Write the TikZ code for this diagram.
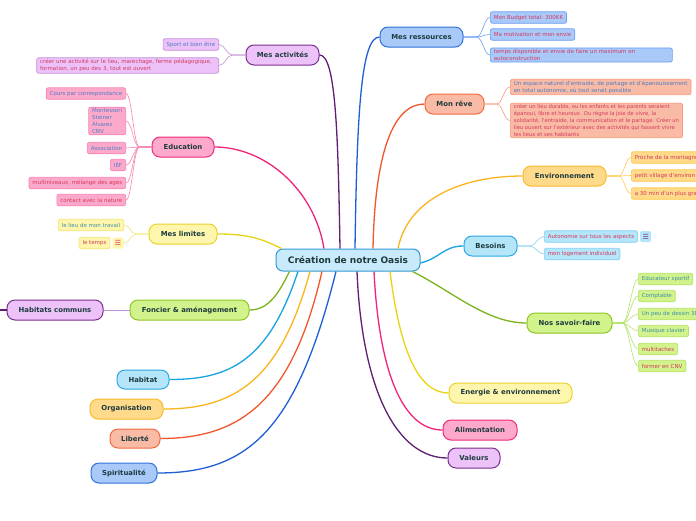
\documentclass[tikz,border=0pt]{standalone}
\usepackage{fontspec}
\setmainfont{DejaVu Sans}
\usetikzlibrary{positioning}

\definecolor{titletext}{HTML}{1D3B3E}
\definecolor{leafblue}{HTML}{4E7CC4}
\definecolor{leafred}{HTML}{D3395F}
\definecolor{leafteal}{HTML}{3D8FA3}
\definecolor{centerfill}{HTML}{C8EAFB}
\definecolor{centerline}{HTML}{3399D6}
\definecolor{purplefill}{HTML}{ECC2F8}
\definecolor{purpleline}{HTML}{7A2F8E}
\definecolor{purplebranch}{HTML}{5E1E72}
\definecolor{purpletwig}{HTML}{C890D8}
\definecolor{bluefill}{HTML}{A9C9F9}
\definecolor{blueline}{HTML}{2F72D9}
\definecolor{bluebranch}{HTML}{1F5FD6}
\definecolor{bluetwig}{HTML}{6E9FF2}
\definecolor{salmonfill}{HTML}{F9BBA5}
\definecolor{salmonline}{HTML}{F26A3E}
\definecolor{salmonbranch}{HTML}{F2572B}
\definecolor{salmontwig}{HTML}{F79A7C}
\definecolor{orangefill}{HTML}{FFDA8A}
\definecolor{orangeline}{HTML}{F9BB2A}
\definecolor{orangebranch}{HTML}{FBB51C}
\definecolor{orangetwig}{HTML}{FFC94A}
\definecolor{cyanfill}{HTML}{B5E5F9}
\definecolor{cyanline}{HTML}{2AA9E3}
\definecolor{cyanbranch}{HTML}{16A3E0}
\definecolor{cyantwig}{HTML}{80D2F2}
\definecolor{limefill}{HTML}{D2F38C}
\definecolor{limeline}{HTML}{90C526}
\definecolor{limebranch}{HTML}{7CB21F}
\definecolor{limetwig}{HTML}{B5E36A}
\definecolor{yellowfill}{HTML}{FFF6AE}
\definecolor{yellowline}{HTML}{EAD22A}
\definecolor{yellowbranch}{HTML}{E9D412}
\definecolor{yellowtwig}{HTML}{F2E67A}
\definecolor{pinkfill}{HTML}{FDA9CB}
\definecolor{pinkline}{HTML}{F02C7C}
\definecolor{pinkbranch}{HTML}{F0247A}
\definecolor{pinktwig}{HTML}{F784B4}

\tikzstyle{central} = [rectangle, rounded corners=7pt, minimum width=144pt, minimum height=22pt, line width=1pt, fill=centerfill, draw=centerline, text=titletext, font=\fontsize{9}{10}\selectfont\bfseries]
\tikzstyle{topic} = [rectangle, rounded corners=8pt, minimum height=20pt, inner sep=2pt, line width=1pt, text=titletext, font=\fontsize{6.9}{8}\selectfont\bfseries]
\tikzstyle{leaf} = [rectangle, rounded corners=2pt, minimum height=11.5pt, inner xsep=3.5pt, inner ysep=1.5pt, line width=0.7pt, align=left, font=\fontsize{5.5}{6.8}\selectfont]
\tikzstyle{icon} = [rectangle, rounded corners=1.5pt, minimum size=11pt, inner sep=0pt, font=\fontsize{7}{7}\selectfont]
\tikzstyle{branch} = [line width=1.3pt]
\tikzstyle{twig} = [line width=0.6pt]

\begin{document}
\begin{tikzpicture}[x=1pt, y=-1pt]

    \useasboundingbox (0,0) rectangle (696,520);
    \fill [white] (0,0) rectangle (696,520);
    \clip (0,0) rectangle (696,520);

    % centre
    \node (oasis) [central] at (348,260) {Création de notre Oasis};

    % topics, right hand side
    \node (ressources) [topic, fill=bluefill, draw=blueline, minimum width=83pt] at (421.5,37) {Mes ressources};
    \node (reve) [topic, fill=salmonfill, draw=salmonline, minimum width=59pt] at (454.5,104) {Mon rêve};
    \node (environnement) [topic, fill=orangefill, draw=orangeline, minimum width=83pt] at (564.5,176) {Environnement};
    \node (besoins) [topic, fill=cyanfill, draw=cyanline, minimum width=53pt] at (490.5,246) {Besoins};
    \node (savoirfaire) [topic, fill=limefill, draw=limeline, minimum width=85pt] at (569.5,323) {Nos savoir-faire};
    \node (energie) [topic, fill=yellowfill, draw=yellowline, minimum width=123pt] at (510.5,393) {Energie \& environnement};
    \node (alimentation) [topic, fill=pinkfill, draw=pinkline, minimum width=74pt] at (480,430) {Alimentation};
    \node (valeurs) [topic, fill=purplefill, draw=purpleline, minimum width=52pt] at (474,458) {Valeurs};

    % topics, left hand side
    \node (activites) [topic, fill=purplefill, draw=purpleline, minimum width=73pt] at (282.5,55) {Mes activités};
    \node (education) [topic, fill=pinkfill, draw=pinkline, minimum width=62pt] at (183,147) {Education};
    \node (limites) [topic, fill=yellowfill, draw=yellowline, minimum width=68pt] at (183,234) {Mes limites};
    \node (foncier) [topic, fill=limefill, draw=limeline, minimum width=119pt] at (189.5,310) {Foncier \& aménagement};
    \node (habcommuns) [topic, fill=purplefill, draw=purpleline, minimum width=96pt] at (55,310) {Habitats communs};
    \node (habitat) [topic, fill=cyanfill, draw=cyanline, minimum width=52pt, minimum height=19pt] at (143,379.5) {Habitat};
    \node (organisation) [topic, fill=orangefill, draw=orangeline, minimum width=73pt] at (126.5,409) {Organisation};
    \node (liberte) [topic, fill=salmonfill, draw=salmonline, minimum width=50pt, minimum height=19pt] at (135,438.5) {Liberté};
    \node (spiritualite) [topic, fill=bluefill, draw=blueline, minimum width=66pt] at (124,473) {Spiritualité};

    % leaves
    \node (budget) [leaf, fill=bluefill, draw=bluetwig, text=leafred, anchor=west] at (490,17.5) {Mon Budget total: 300K€};
    \node (motivation) [leaf, fill=bluefill, draw=bluetwig, text=leafred, anchor=west] at (490,34.5) {Ma motivation et mon envie};
    \node (temps) [leaf, fill=bluefill, draw=bluetwig, text=leafred, anchor=west, text width=175pt] at (490,55) {temps disponible et envie de faire un maximum en\\autoconstruction};

    \node (espace) [leaf, fill=salmonfill, draw=salmontwig, text=leafblue, anchor=west] at (510,87) {Un espace naturel d'entraide, de partage et d'épanouissement\\en total autonomie, où tout serait possible};
    \node (durable) [leaf, fill=salmonfill, draw=salmontwig, text=leafred, anchor=west, font=\fontsize{5.25}{6.8}\selectfont] at (510,120.5) {créer un lieu durable, ou les enfants et les parents seraient\\épanoui, libre et heureux. Ou règne la joie de vivre, la\\solidarité, l'entraide, la communication et le partage. Créer un\\lieu ouvert sur l'extérieur avec des activités qui fassent vivre\\les lieux et ses habitants};

    \node (montagne) [leaf, fill=orangefill, draw=orangetwig, text=leafred, anchor=west] at (631,157.5) {Proche de la montagne};
    \node (village) [leaf, fill=orangefill, draw=orangetwig, text=leafred, anchor=west] at (631,175.5) {petit village d'environ};
    \node (trente) [leaf, fill=orangefill, draw=orangetwig, text=leafred, anchor=west] at (631,193.5) {a 30 min d'un plus gra};

    \node (autonomie) [leaf, fill=cyanfill, draw=cyantwig, text=leafred, anchor=west] at (544,236.5) {Autonomie sur tous les aspects};
    \node (autoicon) [icon, fill=cyanfill, text=purpleline, right=2pt of autonomie] {☰};
    \node (logement) [leaf, fill=cyanfill, draw=cyantwig, text=leafred, anchor=west] at (544,254) {mon logement individuel};

    \node (educateur) [leaf, fill=limefill, draw=limetwig, text=leafteal, anchor=west] at (638,279) {Educateur sportif};
    \node (comptable) [leaf, fill=limefill, draw=limetwig, text=leafteal, anchor=west] at (638,296) {Comptable};
    \node (dessin) [leaf, fill=limefill, draw=limetwig, text=leafteal, anchor=west] at (638,314) {Un peu de dessin 3D};
    \node (musique) [leaf, fill=limefill, draw=limetwig, text=leafteal, anchor=west] at (638,331) {Musique clavier};
    \node (multitaches) [leaf, fill=limefill, draw=limetwig, text=leafred, anchor=west] at (638,349) {multitaches};
    \node (cnv) [leaf, fill=limefill, draw=limetwig, text=leafred, anchor=west] at (638,366) {former en CNV};

    \node (sport) [leaf, fill=purplefill, draw=purpletwig, text=leafblue, anchor=east] at (219,44.5) {Sport et bien être};
    \node (activite) [leaf, fill=purplefill, draw=purpletwig, text=leafred, anchor=east, text width=175pt] at (219,65.5) {créer une activité sur le lieu, marechage, ferme pédagogique,\\formation, un peu des  3, tout est ouvert};

    \node (cours) [leaf, fill=pinkfill, draw=pinktwig, text=leafblue, anchor=east] at (126,93.5) {Cours par correspondance};
    \node (montessori) [leaf, fill=pinkfill, draw=pinktwig, text=leafblue, anchor=east] at (126,121) {Montessori\\Steiner\\Alvarez\\CNV};
    \node (association) [leaf, fill=pinkfill, draw=pinktwig, text=leafblue, anchor=east] at (126,148) {Association};
    \node (ief) [leaf, fill=pinkfill, draw=pinktwig, text=leafblue, anchor=east] at (126,165) {IEF};
    \node (multiniveaux) [leaf, fill=pinkfill, draw=pinktwig, text=leafred, anchor=east] at (126,183) {multiniveaux, mélange des ages};
    \node (nature) [leaf, fill=pinkfill, draw=pinktwig, text=leafred, anchor=east] at (126,200) {contact avec la nature};

    \node (travail) [leaf, fill=yellowfill, draw=yellowtwig, text=leafteal, anchor=east] at (124,225) {le lieu de mon travail};
    \node (tempsicon) [icon, fill=yellowfill, text=leafred] at (118,243) {☰};
    \node (letemps) [leaf, fill=yellowfill, draw=yellowtwig, text=leafred, left=2pt of tempsicon] {le temps};

    \coordinate (edge) at (0,310);

    % branches from the centre
    \draw [branch, purplebranch] ([xshift=-8pt]oasis.north) .. controls +(-2,-120) and +(16,0) .. (activites.east);
    \draw [branch, bluebranch] ([xshift=7pt]oasis.north) .. controls +(2,-140) and +(-18,0) .. (ressources.west);
    \draw [branch, salmonbranch] ([xshift=25pt]oasis.north) .. controls +(2,-100) and +(-30,0) .. (reve.west);
    \draw [branch, orangebranch] ([xshift=50pt]oasis.north) .. controls +(10,-50) and +(-60,0) .. (environnement.west);
    \draw [branch, cyanbranch] ([yshift=-3pt]oasis.east) .. controls +(20,-5) and +(-20,0) .. (besoins.west);
    \draw [branch, limebranch] ([xshift=-8pt]oasis.south east) .. controls +(40,20) and +(-40,0) .. (savoirfaire.west);
    \draw [branch, yellowbranch] ([xshift=42pt]oasis.south) .. controls +(10,80) and +(-30,0) .. (energie.west);
    \draw [branch, pinkbranch] ([xshift=26pt]oasis.south) .. controls +(5,100) and +(-40,0) .. (alimentation.west);
    \draw [branch, purplebranch] ([xshift=9pt]oasis.south) .. controls +(5,120) and +(-50,0) .. (valeurs.west);

    \draw [branch, pinkbranch] ([xshift=-24pt]oasis.north) .. controls +(-10,-60) and +(50,0) .. (education.east);
    \draw [branch, yellowbranch] ([xshift=6pt]oasis.north west) .. controls +(-20,-10) and +(30,0) .. (limites.east);
    \draw [branch, limebranch] ([xshift=14pt]oasis.south west) .. controls +(-10,20) and +(20,0) .. (foncier.east);
    \draw [branch, cyanbranch] ([xshift=-50pt]oasis.south) .. controls +(-30,90) and +(60,0) .. (habitat.east);
    \draw [branch, orangebranch] ([xshift=-38pt]oasis.south) .. controls +(-30,110) and +(70,0) .. (organisation.east);
    \draw [branch, salmonbranch] ([xshift=-26pt]oasis.south) .. controls +(-30,130) and +(80,0) .. (liberte.east);
    \draw [branch, bluebranch] ([xshift=-12pt]oasis.south) .. controls +(-40,160) and +(90,0) .. (spiritualite.east);

    % twigs to the leaves
    \draw [twig, bluetwig] (ressources.east) -- ++(13,0) .. controls +(6,0) and +(-6,0) .. (budget.west);
    \draw [twig, bluetwig] (ressources.east) -- ++(13,0) .. controls +(6,0) and +(-6,0) .. (motivation.west);
    \draw [twig, bluetwig] (ressources.east) -- ++(13,0) .. controls +(6,0) and +(-6,0) .. (temps.west);
    \draw [twig, salmontwig] (reve.east) -- ++(12,0) .. controls +(6,0) and +(-6,0) .. (espace.west);
    \draw [twig, salmontwig] (reve.east) -- ++(12,0) .. controls +(6,0) and +(-6,0) .. (durable.west);
    \draw [twig, orangetwig] (environnement.east) -- ++(12,0) .. controls +(6,0) and +(-6,0) .. (montagne.west);
    \draw [twig, orangetwig] (environnement.east) -- ++(12,0) .. controls +(6,0) and +(-6,0) .. (village.west);
    \draw [twig, orangetwig] (environnement.east) -- ++(12,0) .. controls +(6,0) and +(-6,0) .. (trente.west);
    \draw [twig, cyantwig] (besoins.east) -- ++(12,0) .. controls +(6,0) and +(-6,0) .. (autonomie.west);
    \draw [twig, cyantwig] (besoins.east) -- ++(12,0) .. controls +(6,0) and +(-6,0) .. (logement.west);
    \draw [twig, limetwig] (savoirfaire.east) -- ++(10,0) .. controls +(6,0) and +(-6,0) .. (educateur.west);
    \draw [twig, limetwig] (savoirfaire.east) -- ++(10,0) .. controls +(6,0) and +(-6,0) .. (comptable.west);
    \draw [twig, limetwig] (savoirfaire.east) -- ++(10,0) .. controls +(6,0) and +(-6,0) .. (dessin.west);
    \draw [twig, limetwig] (savoirfaire.east) -- ++(10,0) .. controls +(6,0) and +(-6,0) .. (musique.west);
    \draw [twig, limetwig] (savoirfaire.east) -- ++(10,0) .. controls +(6,0) and +(-6,0) .. (multitaches.west);
    \draw [twig, limetwig] (savoirfaire.east) -- ++(10,0) .. controls +(6,0) and +(-6,0) .. (cnv.west);

    \draw [twig, purpletwig] (activites.west) -- ++(-13,0) .. controls +(-6,0) and +(6,0) .. (sport.east);
    \draw [twig, purpletwig] (activites.west) -- ++(-13,0) .. controls +(-6,0) and +(6,0) .. (activite.east);
    \draw [twig, pinktwig] (education.west) -- ++(-12,0) .. controls +(-6,0) and +(6,0) .. (cours.east);
    \draw [twig, pinktwig] (education.west) -- ++(-12,0) .. controls +(-6,0) and +(6,0) .. (montessori.east);
    \draw [twig, pinktwig] (education.west) -- ++(-12,0) .. controls +(-6,0) and +(6,0) .. (association.east);
    \draw [twig, pinktwig] (education.west) -- ++(-12,0) .. controls +(-6,0) and +(6,0) .. (ief.east);
    \draw [twig, pinktwig] (education.west) -- ++(-12,0) .. controls +(-6,0) and +(6,0) .. (multiniveaux.east);
    \draw [twig, pinktwig] (education.west) -- ++(-12,0) .. controls +(-6,0) and +(6,0) .. (nature.east);
    \draw [twig, yellowtwig] (limites.west) -- ++(-12,0) .. controls +(-6,0) and +(6,0) .. (travail.east);
    \draw [twig, yellowtwig] (limites.west) -- ++(-12,0) .. controls +(-6,0) and +(6,0) .. (tempsicon.east);

    \draw [twig, purpletwig] (foncier.west) -- (habcommuns.east);
    \draw [branch, purplebranch] (habcommuns.west) -- (edge);

\end{tikzpicture}
\end{document}
